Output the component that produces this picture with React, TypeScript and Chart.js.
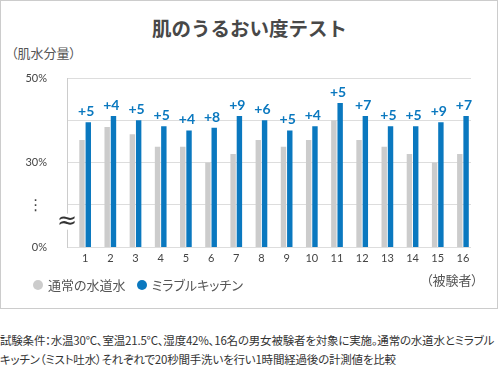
import React, { useEffect, useRef } from "react";
import { Chart, registerables } from "chart.js";

Chart.register(...registerables);

const categories = [1, 2, 3, 4, 5, 6, 7, 8, 9, 10, 11, 12, 13, 14, 15, 16];
const tapWater = [35.3, 38.4, 36.7, 33.7, 33.7, 30, 32, 35.3, 33.7, 35.3, 40, 35.3, 33.7, 32, 30, 32];
const mirable = [39.5, 41, 40, 38.6, 37.6, 38.2, 41, 40, 37.6, 38.6, 44.1, 41, 38.6, 38.6, 39.5, 41];
const diffLabels = ["+5", "+4", "+5", "+5", "+4", "+8", "+9", "+6", "+5", "+4", "+5", "+7", "+5", "+5", "+9", "+7"];
const seriesNames = ["通常の水道水", "ミラブルキッチン"];
const seriesColors = ["#cccccc", "#0a78bf"];
// broken axis: internal value 10 => 0%, 20 => break mark
const yTickValues = [10, 20, 30, 40, 50];
const yTickLabels = ["0%", "⋮ ", "30%", "", "50%"];
const breakValue = 16;

const JP = '"Noto Sans CJK JP", "Noto Sans", sans-serif';

export default function App() {
  const ref = useRef<HTMLCanvasElement | null>(null);

  useEffect(() => {
    const canvas = ref.current;
    if (!canvas) return;

    const labelsPlugin = {
      id: "diffLabels",
      afterDatasetsDraw(chart: any) {
        const ctx = chart.ctx;
        const xs = chart.scales.x;
        const meta = chart.getDatasetMeta(1);
        ctx.save();
        ctx.fillStyle = seriesColors[1];
        ctx.font = "bold 14px Lato, sans-serif";
        ctx.textAlign = "center";
        ctx.textBaseline = "alphabetic";
        categories.forEach((c, i) => {
          const x = xs.getPixelForValue(c) + 1;
          const y = meta.data[i].y - 6;
          ctx.fillText(diffLabels[i], x, y);
        });
        ctx.restore();
      },
      afterDraw(chart: any) {
        const ctx = chart.ctx;
        const ys = chart.scales.y;
        const x = chart.chartArea.left;
        const y = ys.getPixelForValue(breakValue);
        ctx.save();
        ctx.fillStyle = "#ffffff";
        ctx.fillRect(x - 8, y - 8, 16, 16);
        ctx.fillStyle = "#333333";
        ctx.font = "24px 'DejaVu Sans', sans-serif";
        ctx.textAlign = "center";
        ctx.textBaseline = "middle";
        ctx.fillText("≈", x, y);
        ctx.restore();
      },
    };

    const chart = new Chart(canvas, {
      type: "bar",
      data: {
        datasets: [
          {
            label: seriesNames[0],
            data: categories.map((c, i) => ({ x: c, y: tapWater[i] })),
            backgroundColor: seriesColors[0],
            categoryPercentage: 0.5,
            barPercentage: 0.86,
          },
          {
            label: seriesNames[1],
            data: categories.map((c, i) => ({ x: c, y: mirable[i] })),
            backgroundColor: seriesColors[1],
            categoryPercentage: 0.5,
            barPercentage: 0.86,
          },
        ],
      },
      options: {
        animation: false,
        responsive: false,
        devicePixelRatio: 1,
        layout: { padding: { top: 78, right: 26, bottom: 41, left: 0 } },
        plugins: {
          legend: { display: false },
          tooltip: { enabled: false },
          title: { display: false },
        },
        scales: {
          x: {
            type: "linear",
            min: 0.28,
            max: 16.32,
            offset: false,
            afterBuildTicks: (s: any) => {
              s.ticks = categories.map((v) => ({ value: v }));
            },
            afterFit: (s: any) => {
              s.height = 20;
            },
            grid: { display: false, drawTicks: false },
            border: { display: false },
            ticks: {
              padding: 5,
              color: "#444",
              font: { family: "Lato, sans-serif", size: 11 },
              callback: (v: any) => String(v),
              maxRotation: 0,
              autoSkip: false,
            },
          },
          y: {
            min: 10,
            max: 50,
            afterBuildTicks: (s: any) => {
              s.ticks = yTickValues.map((v) => ({ value: v }));
            },
            afterFit: (s: any) => {
              s.width = 67;
            },
            grid: { color: "#dddddd", lineWidth: 1, drawTicks: false },
            border: { display: true, color: "#cccccc", width: 1 },
            ticks: {
              padding: 20,
              color: "#444",
              font: (ctx: any) => {
                const v = ctx.tick ? ctx.tick.value : 0;
                return { family: "Lato, 'DejaVu Sans', sans-serif", size: v === 20 ? 15 : 11 };
              },
              callback: (v: any) => {
                const i = yTickValues.indexOf(Number(v));
                return i >= 0 ? yTickLabels[i] : "";
              },
            },
          },
        },
      },
      plugins: [labelsPlugin],
    } as any);

    return () => chart.destroy();
  }, []);

  return (
    <div
      style={{
        position: "absolute",
        left: 0,
        top: 0,
        width: 501,
        height: 365,
        background: "#fff",
        fontFamily: JP,
        color: "#444",
        overflow: "hidden",
      }}
    >
      <div
        style={{
          position: "absolute",
          left: 0,
          top: 0,
          width: 496,
          height: 307,
          border: "1px solid #cccccc",
        }}
      />
      <div
        style={{
          position: "absolute",
          left: 0,
          top: 16,
          width: 499,
          textAlign: "center",
          fontSize: 19.5,
          fontWeight: 700,
          lineHeight: "24px",
          color: "#484848",
        }}
      >
        肌のうるおい度テスト
      </div>
      <div
        style={{
          position: "absolute",
          left: 11,
          top: 44,
          fontSize: 13,
          lineHeight: "18px",
          color: "#555",
          fontFeatureSettings: '"palt"',
        }}
      >
        （肌水分量）
      </div>
      <canvas
        ref={ref}
        width={497}
        height={308}
        style={{ position: "absolute", left: 0, top: 0, width: 497, height: 308 }}
      />
      <div
        style={{
          position: "absolute",
          right: 23,
          top: 271,
          fontSize: 13,
          lineHeight: "18px",
          color: "#555",
          fontFeatureSettings: '"palt"',
        }}
      >
        （被験者）
      </div>
      <div
        style={{
          position: "absolute",
          left: 33,
          top: 276,
          display: "flex",
          alignItems: "center",
          fontSize: 13,
          lineHeight: "18px",
          color: "#555",
          fontFeatureSettings: '"palt"',
        }}
      >
        {seriesNames.map((n, i) => (
          <div key={n} style={{ display: "flex", alignItems: "center", marginRight: 11 }}>
            <span
              style={{
                display: "inline-block",
                width: 10,
                height: 10,
                borderRadius: 5,
                background: seriesColors[i],
                marginRight: 5,
              }}
            />
            <span>{n}</span>
          </div>
        ))}
      </div>
      <div
        style={{
          position: "absolute",
          left: 0,
          top: 331,
          fontSize: 11.5,
          letterSpacing: -0.2,
          lineHeight: "19px",
          color: "#333",
          whiteSpace: "nowrap",
          fontFeatureSettings: '"palt"',
        }}
      >
        <div>試験条件：水温30°C、室温21.5°C、湿度42%、16名の男女被験者を対象に実施。通常の水道水とミラブル</div>
        <div>キッチン（ミスト吐水）それぞれで20秒間手洗いを行い1時間経過後の計測値を比較</div>
      </div>
    </div>
  );
}
